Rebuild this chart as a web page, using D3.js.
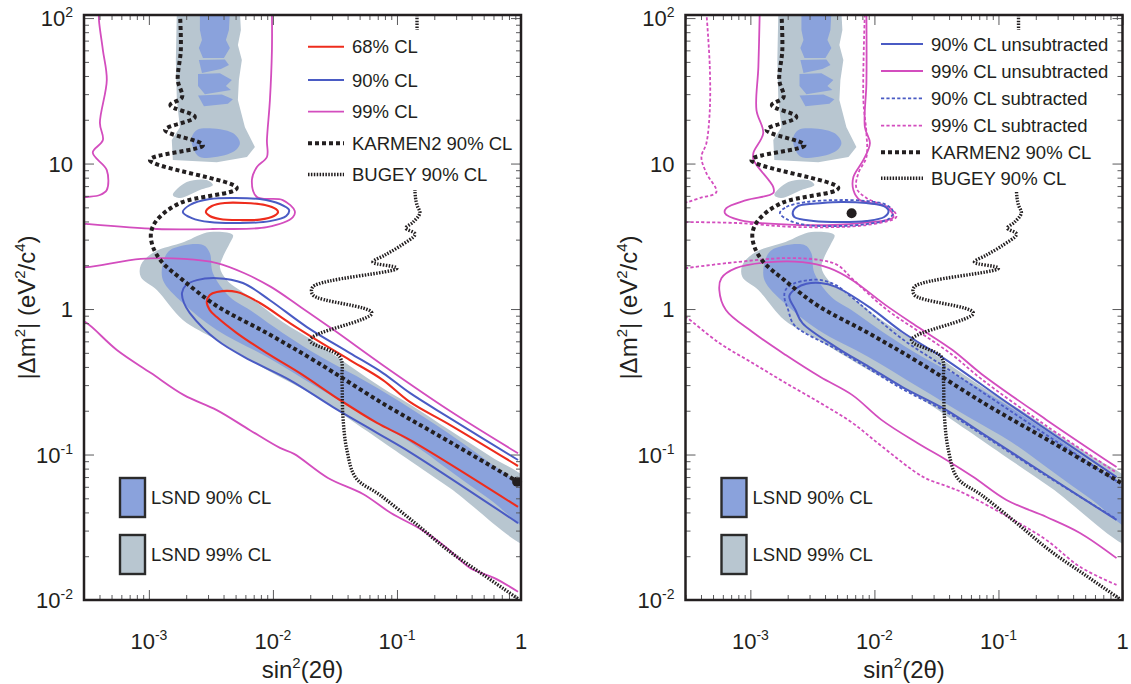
<!DOCTYPE html>
<html>
<head>
<meta charset="utf-8">
<script src="https://cdnjs.cloudflare.com/ajax/libs/d3/7.8.5/d3.min.js"></script>
<style>
  body { margin: 0; background: #fff; }
  text { font-family: "Liberation Sans", Arial, Helvetica, sans-serif; fill: #231f20; }
</style>
</head>
<body>
<svg id="chart" width="1131" height="684"></svg>
<script>
// axes
var xDomain = [3e-4, 1];
var yDomain = [0.01, 105];
var xTickValues = [1e-3, 1e-2, 1e-1, 1];
var xTickLabels = [['10', '-3'], ['10', '-2'], ['10', '-1'], ['1', '']];
var yTickValues = [1e-2, 1e-1, 1, 10, 100];
var yTickLabels = [['10', '-2'], ['10', '-1'], ['1', ''], ['10', ''], ['10', '2']];

// LSND allowed regions [sin^2(2theta), dm^2]
var lsnd99Upper = [[1.68e-3,110],[5.42e-3,110],[5.52e-3,82.7],[5.22e-3,65.4],[5.62e-3,51.5],[5.32e-3,37.5],[5.22e-3,27.3],[5.95e-3,17.8],[7.16e-3,13.0],[6.18e-3,11.1],[3.53e-3,10.2],[1.56e-3,10.6],[1.53e-3,14.5],[1.78e-3,17.8],[1.68e-3,27.3],[1.65e-3,51.5]];
var lsnd99Blob = [[1.56e-3,6.08],[2.02e-3,7.47],[2.93e-3,7.70],[3.28e-3,7.12],[2.58e-3,6.58],[1.78e-3,5.80]];
var lsnd99Band = [[3.10e-3,3.38],[4.76e-3,3.23],[4.50e-3,2.84],[3.95e-3,2.28],[3.74e-3,1.94],[4.26e-3,1.58],[6.53e-3,1.21],[1.20e-2,0.814],[2.26e-2,0.584],[4.18e-2,0.406],[7.71e-2,0.286],[0.127,0.222],[0.267,0.147],[0.562,0.0977],[1.25,0.060],[1.25,0.0234],[0.267,0.0589],[0.106,0.101],[5.73e-2,0.145],[2.26e-2,0.248],[8.95e-3,0.381],[3.53e-3,0.612],[1.88e-3,0.84],[1.16e-3,1.35],[8.62e-4,1.66],[8.62e-4,2.01],[1.10e-3,2.46],[1.92e-3,2.89]];

var lsnd90Stripes = [
  [[2.58e-3,110],[4.50e-3,110],[4.42e-3,82.7],[4.18e-3,70.7],[4.50e-3,62.2],[4.03e-3,53.2],[2.73e-3,53.2],[2.53e-3,62.2],[2.68e-3,70.7],[2.58e-3,82.7]],
  [[2.53e-3,51.5],[4.10e-3,52.0],[4.42e-3,47.6],[3.81e-3,44.6],[2.68e-3,42.0]],
  [[2.49e-3,41.2],[3.74e-3,41.8],[4.67e-3,37.5],[4.18e-3,34.1],[4.59e-3,32.0],[2.83e-3,30.0],[2.49e-3,34.1]],
  [[2.49e-3,29.4],[3.88e-3,29.8],[4.76e-3,27.7],[4.34e-3,25.8],[2.78e-3,24.8]]
];
var lsnd90Blob = [[2.44e-3,17.0],[2.93e-3,17.5],[4.76e-3,16.2],[5.42e-3,13.8],[4.76e-3,12.0],[2.58e-3,11.1],[2.26e-3,13.0],[2.22e-3,15.2]];
var lsnd90Band = [[1.48e-3,2.54],[2.73e-3,2.76],[3.10e-3,2.43],[3.28e-3,1.77],[4.50e-3,1.21],[6.53e-3,0.984],[1.20e-2,0.684],[2.53e-2,0.460],[5.73e-2,0.315],[0.127,0.209],[0.267,0.138],[0.562,0.0874],[1.25,0.051],[1.25,0.030],[0.562,0.049],[0.267,0.0775],[0.127,0.122],[5.73e-2,0.181],[2.26e-2,0.291],[8.95e-3,0.468],[3.53e-3,0.717],[1.88e-3,1.10],[1.30e-3,1.58],[1.30e-3,2.07]];

// exclusion curves (shared)
var karmen2 = [[1.78e-3,110],[1.81e-3,60.3],[1.71e-3,37.5],[1.85e-3,28.6],[1.49e-3,25.2],[2.35e-3,20.9],[1.35e-3,17.0],[2.73e-3,13.4],[1.02e-3,10.6],[5.12e-3,6.79],[1.78e-3,5.35],[1.16e-3,4.09],[1.04e-3,3.33],[1.08e-3,2.67],[1.28e-3,2.10],[1.88e-3,1.58],[3.53e-3,1.05],[8.95e-3,0.684],[2.26e-2,0.432],[7.86e-2,0.222],[0.267,0.122],[0.98,0.0637]];
var bugey = [[0.145,110],[0.145,27.3],[0.140,6.27],[0.145,5.19],[0.153,4.57],[0.135,3.96],[0.118,3.60],[0.140,3.28],[0.106,2.71],[0.080,2.35],[6.40e-2,2.10],[0.100,1.91],[2.10e-2,1.42],[2.10e-2,1.25],[6.28e-2,0.939],[1.99e-2,0.612],[3.47e-2,0.468],[3.60e-2,0.325],[3.67e-2,0.181],[3.95e-2,0.107],[4.67e-2,0.069],[7.3e-2,0.0527],[0.140,0.0338],[0.263,0.0217],[0.503,0.0148],[0.946,0.0102]];

// left panel contours
var cl68Island = [[2.88e-3,4.64],[3.22e-3,5.11],[4.10e-3,5.36],[5.95e-3,5.36],[8.62e-3,5.19],[1.06e-2,4.86],[1.10e-2,4.64],[1.02e-2,4.36],[7.86e-3,4.12],[5.42e-3,4.09],[3.74e-3,4.16],[3.10e-3,4.36]];
var cl68Band = [[0.946,0.0834],[0.267,0.160],[0.127,0.230],[7.71e-2,0.325],[4.18e-2,0.446],[2.26e-2,0.612],[1.37e-2,0.801],[7.86e-3,1.10],[5.12e-3,1.31],[3.53e-3,1.31],[3.10e-3,1.25],[2.93e-3,1.12],[3.10e-3,0.984],[3.53e-3,0.881],[5.12e-3,0.684],[8.95e-3,0.498],[1.65e-2,0.363],[3.47e-2,0.237],[6.90e-2,0.165],[0.127,0.126],[0.946,0.0436]];
var cl90Island = [[1.88e-3,4.64],[2.14e-3,5.19],[3.10e-3,5.70],[4.94e-3,5.80],[7.86e-3,5.70],[1.14e-2,5.27],[1.35e-2,4.79],[1.28e-2,4.36],[9.46e-3,4.02],[5.42e-3,3.90],[3.10e-3,3.96],[2.22e-3,4.22]];
var cl90Band = [[0.946,0.0917],[0.267,0.178],[0.127,0.265],[7.71e-2,0.363],[4.18e-2,0.498],[1.88e-2,0.752],[9.46e-3,1.15],[5.73e-3,1.51],[3.53e-3,1.63],[2.44e-3,1.58],[1.99e-3,1.46],[1.85e-3,1.29],[1.92e-3,1.10],[2.14e-3,0.939],[3.53e-3,0.612],[6.53e-3,0.446],[1.37e-2,0.325],[3.05e-2,0.212],[6.90e-2,0.141],[0.127,0.104],[0.946,0.0338]];
var cl99Upper = [[3.96e-4,110],[3.96e-4,96.9],[4.26e-4,60.3],[4.58e-4,37.5],[4.03e-4,19.0],[4.26e-4,14.5],[3.53e-4,11.9],[4.58e-4,9.02],[4.58e-4,6.58],[4.03e-4,6.08],[3.16e-4,5.89],[2.7e-4,5.8],[2.7e-4,3.9],[3.22e-4,3.84],[1.16e-3,3.55],[3.28e-3,3.55],[8.95e-3,3.66],[1.45e-2,4.29],[1.50e-2,4.72],[1.20e-2,5.61],[7.43e-3,5.89],[6.77e-3,7.70],[7.43e-3,9.46],[8.95e-3,11.1],[8.95e-3,14.5],[9.46e-3,27.3],[9.82e-3,60.3],[9.82e-3,110]];
var cl99BandTop = [[2.7e-4,1.96],[3.16e-4,1.94],[8.62e-4,2.21],[1.92e-3,2.21],[3.53e-3,2.07],[5.84e-3,1.77],[9.64e-3,1.42],[1.68e-2,1.03],[3.10e-2,0.717],[7.86e-2,0.406],[0.268,0.199],[0.946,0.102]];
var cl99BandBottom = [[2.7e-4,0.85],[3.16e-4,0.801],[5.52e-4,0.523],[1.04e-3,0.363],[1.92e-3,0.256],[3.53e-3,0.202],[6.53e-3,0.147],[1.14e-2,0.111],[1.48e-2,0.101],[2.78e-2,0.069],[5.32e-2,0.0535],[8.94e-2,0.0396],[0.159,0.0303],[0.248,0.0231],[0.388,0.0166],[0.606,0.0142],[0.946,0.0114]];

// right panel contours
var unsub90Island = [[2.20e-3,4.64],[2.44e-3,5.11],[3.81e-3,5.35],[5.42e-3,5.44],[8.62e-3,5.35],[1.18e-2,5.11],[1.30e-2,4.72],[1.20e-2,4.29],[8.62e-3,4.03],[5.42e-3,3.96],[3.22e-3,4.03],[2.26e-3,4.29]];
var unsub90Band = [[0.895,0.070],[0.132,0.212],[3.81e-2,0.446],[1.68e-2,0.695],[9.11e-3,1.03],[4.89e-3,1.42],[3.67e-3,1.51],[2.83e-3,1.49],[2.35e-3,1.39],[2.06e-3,1.23],[2.31e-3,0.984],[2.63e-3,0.801],[4.89e-3,0.548],[9.11e-3,0.399],[1.68e-2,0.291],[3.81e-2,0.202],[7.3e-2,0.141],[0.244,0.0723],[0.895,0.0355]];
var unsub99Upper = [[1.19e-3,110],[1.16e-3,46.0],[1.12e-3,23.3],[1.27e-3,16.2],[1.06e-3,11.9],[1.06e-3,10.6],[1.53e-3,6.89],[1.53e-3,6.27],[9.29e-4,5.61],[6.40e-4,4.94],[6.23e-4,4.57],[8.23e-4,4.09],[2.51e-3,3.78],[7.64e-3,3.90],[1.42e-2,4.29],[1.25e-2,5.02],[7.64e-3,5.61],[6.77e-3,6.58],[6.77e-3,8.08],[8.15e-3,10.6],[9.20e-3,13.8],[8.38e-3,17.8],[8.62e-3,35.8],[8.62e-3,110]];
var unsub99Band = [[0.895,0.0820],[0.244,0.173],[7.3e-2,0.358],[4.26e-2,0.523],[2.31e-2,0.740],[1.24e-2,1.06],[6.65e-3,1.58],[4.34e-3,1.91],[2.63e-3,2.10],[1.42e-3,2.10],[7.64e-4,1.91],[5.84e-4,1.63],[5.62e-4,1.35],[6.35e-4,0.984],[1.04e-3,0.695],[1.93e-3,0.483],[3.67e-3,0.341],[6.65e-3,0.256],[1.14e-2,0.173],[2.22e-2,0.120],[3.81e-2,0.0917],[6.28e-2,0.070],[0.116,0.0487],[0.244,0.0372],[0.454,0.0289],[0.895,0.0194]];
var sub90Island = [[1.73e-3,4.57],[1.95e-3,5.03],[2.83e-3,5.44],[4.94e-3,5.61],[8.62e-3,5.53],[1.25e-2,5.19],[1.42e-2,4.64],[1.30e-2,4.16],[8.62e-3,3.84],[4.94e-3,3.72],[2.83e-3,3.78],[2.02e-3,4.09]];
var sub90Band = [[0.895,0.0657],[0.132,0.193],[3.81e-2,0.393],[1.68e-2,0.622],[9.11e-3,0.954],[6.53e-3,1.21],[4.89e-3,1.46],[3.74e-3,1.58],[2.93e-3,1.58],[2.22e-3,1.49],[1.92e-3,1.35],[1.88e-3,1.21],[2.02e-3,0.984],[2.26e-3,0.776],[4.89e-3,0.531],[9.11e-3,0.387],[1.68e-2,0.282],[3.81e-2,0.196],[7.3e-2,0.138],[0.244,0.0712],[0.895,0.0360]];
var sub99Upper = [[4.42e-4,110],[4.71e-4,46.0],[4.71e-4,23.3],[4.42e-4,13.8],[4.03e-4,11.1],[4.42e-4,8.60],[5.32e-4,6.37],[3.91e-4,5.80],[3.13e-4,5.44],[2.7e-4,5.3],[2.7e-4,3.96],[3.13e-4,3.96],[7.93e-4,3.90],[2.51e-3,3.66],[8.62e-3,3.78],[1.50e-2,4.29],[1.41e-2,4.79],[8.62e-3,5.80],[7.16e-3,6.79],[7.43e-3,8.60],[8.62e-3,11.1],[8.62e-3,16.2],[8.15e-3,27.3],[8.38e-3,110]];
var sub99BandTop = [[2.7e-4,1.89],[7.64e-4,2.10],[1.93e-3,2.24],[3.67e-3,2.17],[5.03e-3,2.01],[6.65e-3,1.61],[1.24e-2,1.0],[2.31e-2,0.695],[4.26e-2,0.483],[7.3e-2,0.330],[0.244,0.157],[0.895,0.0752]];
var sub99BandBottom = [[2.7e-4,0.924],[3.02e-4,0.881],[5.62e-4,0.584],[1.04e-3,0.426],[1.93e-3,0.310],[3.67e-3,0.226],[6.65e-3,0.165],[1.16e-2,0.113],[2.48e-2,0.070],[3.81e-2,0.0607],[5.22e-2,0.0544],[0.132,0.0355],[0.244,0.0258],[0.454,0.0169],[0.895,0.0127]];

var bestFitLeft = [0.93, 0.065];
var bestFitRight = [6.55e-3, 4.55];

var legendLabelsLeft = ['68% CL', '90% CL', '99% CL', 'KARMEN2 90% CL', 'BUGEY 90% CL'];
var legendLabelsRight = ['90% CL unsubtracted', '99% CL unsubtracted', '90% CL subtracted', '99% CL subtracted', 'KARMEN2 90% CL', 'BUGEY 90% CL'];
var regionLabels = ['LSND 90% CL', 'LSND 99% CL'];

var C = {
  lsnd90: '#8aa2dc', lsnd99: '#b8c6d0', red: '#ee2c1c', blue: '#4a5bc4',
  magenta: '#d34dbe', dark: '#231f20', tick: '#5a5a5c'
};
var W = 437, H = 585, TOP = 15;
var SUBDASH = '3.2,2.2';

var styles = {
  red: {color: C.red, width: 2.1},
  blue: {color: C.blue, width: 2},
  magenta: {color: C.magenta, width: 1.8},
  blueDash: {color: C.blue, width: 1.8, dash: SUBDASH},
  magentaDash: {color: C.magenta, width: 1.8, dash: SUBDASH},
  karmen: {color: C.dark, width: 4, dash: '4,3'},
  bugey: {color: C.dark, width: 3.4, dash: '1.5,1.4'}
};

var panels = [
  {
    id: 'L', left: 84, dot: bestFitLeft,
    curves: [
      [cl99Upper, 'magenta'], [cl99BandTop, 'magenta'], [cl99BandBottom, 'magenta'],
      [cl90Island, 'blue', true], [cl90Band, 'blue'],
      [cl68Island, 'red', true], [cl68Band, 'red']
    ],
    legend: {labels: legendLabelsLeft, styles: ['red', 'blue', 'magenta', 'karmen', 'bugey'],
             rows: [31.7, 65, 96.7, 128.3, 159.5], x0: 224, x1: 260, tx: 268,
             box: [216, 15, 219, 160]}
  },
  {
    id: 'R', left: 685.5, dot: bestFitRight,
    curves: [
      [sub99Upper, 'magentaDash'], [sub99BandTop, 'magentaDash'], [sub99BandBottom, 'magentaDash'],
      [unsub99Upper, 'magenta'], [unsub99Band, 'magenta'],
      [sub90Island, 'blueDash', true], [sub90Band, 'blueDash'],
      [unsub90Island, 'blue', true], [unsub90Band, 'blue']
    ],
    legend: {labels: legendLabelsRight, styles: ['blue', 'magenta', 'blueDash', 'magentaDash', 'karmen', 'bugey'],
             rows: [29, 56, 83.3, 110.7, 137.3, 163.3], x0: 195.5, x1: 237.5, tx: 245.5,
             box: [189, 15, 245, 162]}
  }
];

function isPow10(v){
  var l = Math.log10(v);
  return Math.abs(l - Math.round(l)) < 1e-9;
}

// text with superscript parts: parts = [[str, sup], ...]
function richText(parent, parts, size, supSize, rise){
  var t = parent.append('text').attr('font-size', size);
  var up = false;
  parts.forEach(function(p){
    if(!p[0]) return;
    var s = t.append('tspan').text(p[0]);
    if(p[1] && !up){ s.attr('dy', -rise).attr('font-size', supSize); up = true; }
    else if(p[1]){ s.attr('font-size', supSize); }
    else if(up){ s.attr('dy', rise); up = false; }
  });
  return t;
}

function applyStyle(sel, st){
  sel.attr('fill', 'none').attr('stroke', st.color).attr('stroke-width', st.width)
    .attr('stroke-dasharray', st.dash || null);
  return sel;
}

function drawPanel(svg, p){
  var g = svg.append('g').attr('transform', 'translate(' + p.left + ',' + TOP + ')');
  var x = d3.scaleLog().domain(xDomain).range([0, W]);
  var y = d3.scaleLog().domain(yDomain).range([H, 0]);

  g.append('clipPath').attr('id', 'clip' + p.id)
    .append('rect').attr('width', W).attr('height', H);
  var plot = g.append('g').attr('clip-path', 'url(#clip' + p.id + ')');

  var open = d3.line().x(function(d){ return x(d[0]); }).y(function(d){ return y(d[1]); })
    .curve(d3.curveCatmullRom.alpha(0.5));
  var closed = d3.line().x(function(d){ return x(d[0]); }).y(function(d){ return y(d[1]); })
    .curve(d3.curveCatmullRomClosed.alpha(0.5));
  var jagged = d3.line().x(function(d){ return x(d[0]); }).y(function(d){ return y(d[1]); })
    .curve(d3.curveLinearClosed);

  // LSND regions
  plot.append('path').attr('d', jagged(lsnd99Upper)).attr('fill', C.lsnd99);
  plot.append('path').attr('d', closed(lsnd99Blob)).attr('fill', C.lsnd99);
  plot.append('path').attr('d', closed(lsnd99Band)).attr('fill', C.lsnd99);
  lsnd90Stripes.forEach(function(s){
    plot.append('path').attr('d', jagged(s)).attr('fill', C.lsnd90);
  });
  plot.append('path').attr('d', closed(lsnd90Blob)).attr('fill', C.lsnd90);
  plot.append('path').attr('d', closed(lsnd90Band)).attr('fill', C.lsnd90);

  // contours
  p.curves.forEach(function(c){
    applyStyle(plot.append('path').attr('d', (c[2] ? closed : open)(c[0])), styles[c[1]]);
  });

  applyStyle(plot.append('path').attr('d', open(karmen2)), styles.karmen);
  applyStyle(plot.append('path').attr('d', open(bugey)), styles.bugey);

  g.append('circle').attr('cx', x(p.dot[0])).attr('cy', y(p.dot[1])).attr('r', 5).attr('fill', C.dark);

  // line legend
  var lg = p.legend;
  g.append('rect').attr('x', lg.box[0]).attr('y', lg.box[1]).attr('width', lg.box[2]).attr('height', lg.box[3])
    .attr('fill', '#fff');
  lg.labels.forEach(function(lab, i){
    var ry = lg.rows[i];
    applyStyle(g.append('line').attr('x1', lg.x0).attr('x2', lg.x1).attr('y1', ry).attr('y2', ry), styles[lg.styles[i]]);
    g.append('text').attr('x', lg.tx).attr('y', ry + 6.6).attr('font-size', 18.5).text(lab);
  });

  // region legend
  [C.lsnd90, C.lsnd99].forEach(function(col, i){
    var top = 463 + i * 57;
    g.append('rect').attr('x', 36).attr('y', top).attr('width', 25).attr('height', 39)
      .attr('fill', col).attr('stroke', '#2b2b2b').attr('stroke-width', 2.4);
    g.append('text').attr('x', 67).attr('y', top + 26).attr('font-size', 18.5).text(regionLabels[i]);
  });

  // ticks on all four sides, pointing inward
  var xMinor = x.ticks().filter(function(v){ return !isPow10(v); });
  var yMinor = y.ticks().filter(function(v){ return !isPow10(v); });
  function tidy(a){
    a.select('.domain').remove();
    a.selectAll('text').remove();
    a.selectAll('line').attr('stroke', C.tick).attr('stroke-width', 1);
  }
  var sets = [
    [d3.axisBottom, x, 'translate(0,' + H + ')', xTickValues, xMinor],
    [d3.axisTop, x, null, xTickValues, xMinor],
    [d3.axisLeft, y, null, yTickValues, yMinor],
    [d3.axisRight, y, 'translate(' + W + ',0)', yTickValues, yMinor]
  ];
  sets.forEach(function(s){
    [[s[3], 10], [s[4], 5]].forEach(function(t){
      g.append('g').attr('transform', s[2]).call(s[0](s[1]).tickValues(t[0]).tickSize(-t[1]).tickFormat('')).call(tidy);
    });
  });

  g.append('rect').attr('width', W).attr('height', H).attr('fill', 'none')
    .attr('stroke', C.dark).attr('stroke-width', 2.5);

  // tick labels
  xTickValues.forEach(function(v, i){
    richText(g, [[xTickLabels[i][0], false], [xTickLabels[i][1], true]], 22, 14, 9)
      .attr('x', x(v)).attr('y', H + 49).attr('text-anchor', 'middle');
  });
  yTickValues.forEach(function(v, i){
    richText(g, [[yTickLabels[i][0], false], [yTickLabels[i][1], true]], 22, 14, 9)
      .attr('x', -11).attr('y', y(v) + 8).attr('text-anchor', 'end');
  });

  // axis titles
  richText(g, [['sin', false], ['2', true], ['(2\u03b8)', false]], 24, 15, 10)
    .attr('x', W / 2).attr('y', 663).attr('text-anchor', 'middle');
  richText(g, [['|\u0394m', false], ['2', true], ['| (eV', false], ['2', true], ['/c', false], ['4', true], [')', false]], 24, 15, 10)
    .attr('text-anchor', 'middle')
    .attr('transform', 'translate(-49,' + (H / 2) + ') rotate(-90)');
}

var svg = d3.select('#chart');
svg.append('rect').attr('width', 1131).attr('height', 684).attr('fill', '#fff');
panels.forEach(function(p){ drawPanel(svg, p); });
</script>
</body>
</html>
